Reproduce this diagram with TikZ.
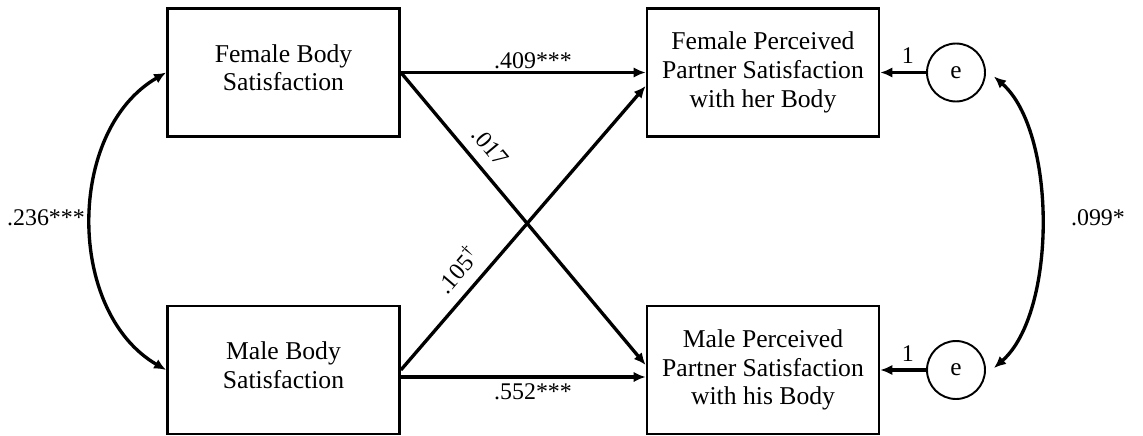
\documentclass[tikz,border=0pt]{standalone}
\usepackage{fontspec}
\setmainfont{Liberation Serif}
\usetikzlibrary{positioning,arrows.meta,calc}

\begin{document}
\begin{tikzpicture}[x=.02cm,y=-.02cm,
  box/.style={draw,line width=1.6pt,minimum width=4.64cm,minimum height=2.56cm,align=center,font=\fontsize{14.6}{16.4}\selectfont},
  inbox/.style={box,text depth=5.5pt},
  err/.style={draw,circle,line width=1.1pt,minimum size=1.16cm,inner sep=0pt,font=\fontsize{14.4}{16.4}\selectfont},
  path/.style={line width=1.9pt,-{Latex[length=2.4mm,width=2.1mm]}},
  cov/.style={line width=1.9pt,{Latex[length=2.4mm,width=2.1mm]}-{Latex[length=2.4mm,width=2.1mm]}},
  lab/.style={font=\fontsize{13.6}{16}\selectfont}]
\useasboundingbox (0,0) rectangle (1143,436);
\node[inbox] (fb) at (283.5,72.5){Female Body\\Satisfaction};
\node[inbox] (mb) at (283.5,370){Male Body\\Satisfaction};
\node[box] (fp) at (763,72.5){Female Perceived\\Partner Satisfaction\\with her Body};
\node[box] (mp) at (763,370){Male Perceived\\Partner Satisfaction\\with his Body};
\node[err] (e1) at (956,72.5){e};
\node[err] (e2) at (956,370){e};
\draw[path] (fb.east) -- node[lab,above=1pt,inner sep=0pt,pos=.54]{.409***} (fp.west);
\draw[path] ([yshift=-.14cm]mb.east) -- node[lab,below=3pt,inner sep=0pt,pos=.54]{.552***} ([yshift=-.14cm]mp.west);
\draw[path] (fb.east) -- node[lab,sloped,above=3pt,pos=.3]{.017} ([yshift=.1cm]mp.west);
\draw[path] (mb.east) -- node[lab,sloped,above=3pt,pos=.3]{.105\textsuperscript{\textdagger}} ([yshift=-.27cm]fp.west);
\draw[path] (e1.west) -- node[lab,above=4pt,inner sep=0pt,pos=.4]{1} (fp.east);
\draw[path] (e2.west) -- node[lab,above=4pt,inner sep=0pt,pos=.4]{1} (mp.east);
\draw[cov] (fb.west) .. controls ($(fb.west)+(-100,58)$) and ($(mb.west)+(-100,-58)$) .. (mb.west);
\coordinate (c1) at ($(e1.east)+(8,4)$);
\coordinate (c2) at ($(e2.east)+(8,-2)$);
\draw[cov] (c1) .. controls ($(c1)+(63,55)$) and ($(c2)+(63,-55)$) .. (c2);
\node[lab] (r1) at (46,218){.236***};
\node[lab] (r2) at (1098,218){.099*};
\end{tikzpicture}
\end{document}
